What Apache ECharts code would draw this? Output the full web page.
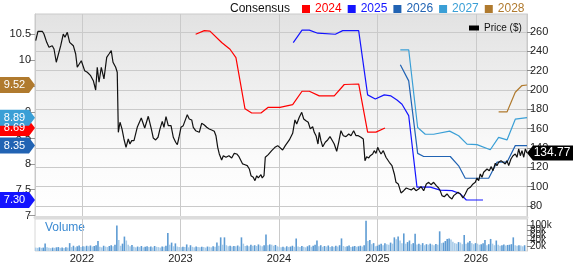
<!DOCTYPE html>
<html><head><meta charset="utf-8">
<script src="https://cdn.jsdelivr.net/npm/echarts@6/dist/echarts.min.js"></script>
<style>html,body{margin:0;padding:0;background:#fff;}#c{width:573px;height:264px;}</style>
</head><body><div id="c"></div>
<script>
// ---- axis extents / ticks ----
const xMin = 2021.523, xMax = 2026.518;
const yearTicks = [2022, 2023, 2024, 2025, 2026];
const priceTicks = [80, 100, 120, 140, 160, 180, 200, 220, 240, 260];
const epsTicks = [7, 7.5, 8, 8.5, 9, 9.5, 10, 10.5];
const volumeTicks = [0, 20, 40, 60, 80, 100, 120];

// ---- price (decimal year, $) ----
const priceDates = [2021.530,2021.553,2021.597,2021.614,2021.642,2021.665,2021.698,2021.716,2021.739,2021.756,2021.784,2021.810,2021.827,2021.851,2021.875,2021.895,2021.912,2021.936,2021.952,2021.970,2021.993,2022.010,2022.027,2022.054,2022.088,2022.115,2022.139,2022.155,2022.173,2022.196,2022.223,2022.251,2022.274,2022.297,2022.315,2022.342,2022.358,2022.369,2022.386,2022.406,2022.426,2022.447,2022.470,2022.487,2022.505,2022.528,2022.561,2022.602,2022.637,2022.673,2022.704,2022.724,2022.748,2022.772,2022.792,2022.815,2022.832,2022.853,2022.876,2022.904,2022.927,2022.951,2022.968,2022.985,2023.005,2023.028,2023.046,2023.069,2023.089,2023.114,2023.130,2023.154,2023.171,2023.191,2023.215,2023.242,2023.266,2023.292,2023.317,2023.343,2023.360,2023.378,2023.394,2023.418,2023.435,2023.462,2023.492,2023.520,2023.546,2023.571,2023.594,2023.614,2023.631,2023.655,2023.678,2023.699,2023.716,2023.739,2023.756,2023.774,2023.790,2023.817,2023.830,2023.848,2023.861,2023.891,2023.926,2023.959,2023.987,2024.003,2024.037,2024.064,2024.105,2024.139,2024.162,2024.180,2024.206,2024.231,2024.251,2024.274,2024.297,2024.318,2024.342,2024.358,2024.376,2024.396,2024.409,2024.426,2024.444,2024.470,2024.494,2024.518,2024.538,2024.561,2024.586,2024.606,2024.629,2024.653,2024.680,2024.708,2024.731,2024.758,2024.782,2024.805,2024.832,2024.856,2024.873,2024.890,2024.911,2024.927,2024.951,2024.967,2024.985,2025.002,2025.018,2025.036,2025.059,2025.086,2025.120,2025.147,2025.171,2025.188,2025.211,2025.239,2025.266,2025.292,2025.317,2025.343,2025.368,2025.391,2025.418,2025.442,2025.469,2025.496,2025.520,2025.543,2025.570,2025.597,2025.621,2025.637,2025.655,2025.678,2025.706,2025.733,2025.756,2025.774,2025.790,2025.817,2025.841,2025.868,2025.891,2025.916,2025.942,2025.970,2025.993,2026.010,2026.027,2026.044,2026.061,2026.078,2026.094,2026.112,2026.135,2026.155,2026.173,2026.196,2026.213,2026.230,2026.254,2026.274,2026.297,2026.315,2026.332,2026.355,2026.376,2026.399,2026.416,2026.434,2026.450,2026.467,2026.485,2026.501,2026.518];
const priceValues = [251.0,260.7,260.7,257.9,249.3,244.2,245.8,242.4,228.7,228.7,245.8,257.9,254.5,259.7,249.3,247.6,245.8,237.2,223.5,221.7,230.3,230.3,220.0,218.3,214.8,209.6,200.0,223.5,208.0,223.5,211.4,233.8,237.2,240.7,228.7,223.5,218.3,156.2,166.6,159.7,149.3,140.7,149.3,144.1,147.6,147.6,161.4,171.0,160.7,172.8,159.7,150.3,148.3,151.1,159.7,167.6,161.4,172.4,163.1,163.1,151.1,145.9,143.4,151.1,161.4,163.1,162.0,174.5,170.0,169.0,161.4,157.9,158.9,156.2,165.5,163.8,161.4,159.7,158.6,157.3,152.7,140.7,133.8,127.6,132.0,130.4,132.0,129.7,134.5,133.8,131.0,130.4,123.5,122.7,121.7,118.3,111.3,109.7,106.2,111.3,109.0,112.4,109.0,111.3,130.4,133.1,137.2,140.7,142.4,140.7,137.9,142.4,148.3,155.2,169.0,164.8,171.8,176.9,170.0,168.2,166.6,159.7,162.0,156.2,152.7,144.1,156.2,147.6,141.3,145.9,148.3,151.7,148.3,144.1,136.6,145.9,157.9,152.7,151.7,154.5,152.7,157.9,152.7,152.7,151.1,149.3,126.9,131.0,129.7,132.0,133.8,137.2,134.5,140.7,137.2,133.8,137.2,130.4,125.2,121.7,113.1,104.5,102.8,93.5,95.8,98.6,97.6,96.6,98.6,95.8,97.6,100.0,95.8,102.8,104.5,102.0,104.5,101.0,98.6,95.8,90.7,89.6,92.4,89.0,87.2,90.7,92.4,94.2,92.4,88.3,92.4,97.6,99.3,102.8,104.5,109.0,106.2,113.1,109.7,114.9,113.8,118.3,116.5,120.7,116.5,124.2,121.7,125.2,126.9,128.6,123.5,126.9,121.7,128.6,132.0,133.8,130.4,139.0,132.0,137.2,130.4,139.0,134.77];

// ---- consensus EPS estimates ----
const eps2024Dates = [2023.154,2023.242,2023.299,2023.418,2023.503,2023.563,2023.655,2023.723,2023.817,2023.891,2024.010,2024.139,2024.234,2024.308,2024.409,2024.561,2024.663,2024.809,2024.900,2024.985,2025.076];
const eps2024Values = [10.50,10.57,10.56,10.34,10.21,10.05,9.06,8.98,8.98,9.09,9.09,9.14,9.40,9.40,9.31,9.31,9.53,9.54,8.61,8.61,8.69];
const eps2025Dates = [2024.145,2024.234,2024.308,2024.393,2024.572,2024.647,2024.809,2024.900,2024.978,2025.069,2025.137,2025.198,2025.249,2025.317,2025.401,2025.536,2025.637,2025.756,2025.841,2025.902,2026.071];
const eps2025Values = [10.34,10.58,10.58,10.52,10.50,10.57,10.57,9.33,9.25,9.33,9.31,9.23,9.15,8.93,7.55,7.55,7.49,7.48,7.42,7.30,7.30];
const eps2026Dates = [2025.232,2025.317,2025.408,2025.469,2025.739,2025.824,2025.891,2026.010,2026.129,2026.213,2026.315,2026.399,2026.518];
const eps2026Values = [9.91,9.60,8.20,8.14,8.14,7.96,7.72,7.72,7.72,8.03,8.03,8.35,8.35];
const eps2027Dates = [2025.232,2025.317,2025.408,2025.485,2025.570,2025.733,2025.824,2025.909,2026.010,2026.145,2026.230,2026.315,2026.399,2026.518];
const eps2027Values = [10.20,10.20,8.70,8.57,8.57,8.63,8.54,8.38,8.37,8.27,8.51,8.46,8.86,8.89];
const eps2028Dates = [2026.230,2026.315,2026.399,2026.467,2026.518];
const eps2028Values = [9.00,9.00,9.38,9.51,9.52];

// ---- weekly volume (thousands) ----
const volumeStart = 2021.530;
const volumeValues = [13,12,14,12,13,29,14,12,11,13,12,14,15,12,13,11,14,13,30,15,20,14,18,21,15,
18,17,20,18,21,17,19,22,38,16,14,20,17,15,19,22,18,24,97,42,20,28,55,40,24,18,23,16,14,17,15,19,14,16,18,15,17,14,19,16,15,13,17,16,20,69,24,32,18,29,17,15,
14,16,15,25,14,22,16,14,17,15,14,16,15,13,17,16,14,18,16,32,20,52,24,52,22,18,20,17,19,18,21,17,52,28,19,21,18,24,20,22,19,25,21,18,22,63,22,25,24,20,23,18,16,
14,16,13,18,15,17,20,16,48,17,15,19,16,14,18,22,16,20,24,40,18,22,16,19,17,21,15,18,16,20,17,22,48,19,16,18,21,15,17,19,16,18,20,17,22,115,38,42,26,30,18,20,
24,28,22,30,26,24,32,28,52,45,55,40,30,67,28,34,40,26,30,66,25,28,24,30,22,26,24,28,25,22,27,24,75,30,32,38,46,48,44,35,30,28,34,32,26,61,28,32,38,30,26,30,
28,24,26,30,42,22,26,46,28,22,40,24,20,22,25,21,23,24,26,52,22,20,22,21,18,22];

const consensus = [
  {name: '2024', dates: eps2024Dates, values: eps2024Values, color: '#ff0000'},
  {name: '2025', dates: eps2025Dates, values: eps2025Values, color: '#1414ff'},
  {name: '2026', dates: eps2026Dates, values: eps2026Values, color: '#2163b3'},
  {name: '2027', dates: eps2027Dates, values: eps2027Values, color: '#3a9fd6'},
  {name: '2028', dates: eps2028Dates, values: eps2028Values, color: '#b07a2e'}
];

const zip = (a, b) => a.map((d, i) => [d, b[i]]);
const FONT = 'Liberation Sans, Arial, sans-serif';
const gridLineColor = '#cacaca';

const series = [];
consensus.forEach(c => {
  const last = c.values[c.values.length - 1];
  series.push({
    name: c.name, type: 'line', xAxisIndex: 0, yAxisIndex: 0,
    data: zip(c.dates, c.values), symbol: 'none', z: 3,
    lineStyle: {color: c.color, width: 1.2}, itemStyle: {color: c.color},
    markPoint: {
      symbol: 'path://M0,0L29,0L35,8L29,16L0,16Z', symbolSize: [35, 16],
      symbolKeepAspect: false, symbolOffset: [-17.5, 0], silent: true,
      itemStyle: {color: c.color},
      label: {show: true, position: 'inside', color: '#fff', fontSize: 11, fontFamily: FONT,
              offset: [-3, 0], formatter: p => p.value.toFixed(2)},
      data: [{coord: [xMin, last], value: last}]
    }
  });
});
const lastPrice = priceValues[priceValues.length - 1];
series.push({
  name: 'Price ($)', type: 'line', xAxisIndex: 0, yAxisIndex: 1,
  data: zip(priceDates, priceValues), symbol: 'none', z: 4,
  lineStyle: {color: '#111', width: 1.2}, itemStyle: {color: '#000'},
  markPoint: {
    symbol: 'path://M0,8L6,0L46,0L46,16L6,16Z', symbolSize: [46, 15],
    symbolKeepAspect: false, symbolOffset: [23, 0], silent: true,
    itemStyle: {color: '#000'},
    label: {show: true, position: 'inside', color: '#fff', fontSize: 12, fontFamily: FONT,
            offset: [2, 0], formatter: p => p.value.toFixed(2)},
    data: [{coord: [xMax, lastPrice], value: lastPrice}]
  }
});
series.push({
  name: 'Volume', type: 'bar', xAxisIndex: 1, yAxisIndex: 2, barWidth: 1.6,
  data: volumeValues.map((v, i) => ({
    value: [volumeStart + i * 7 / 365.25, v],
    itemStyle: {color: (i > 0 && v > volumeValues[i - 1]) ? '#5d9bd3' : '#a9cce9'}
  }))
});

const chart = echarts.init(document.getElementById('c'), null, {renderer: 'canvas'});
chart.setOption({
  animation: false,
  textStyle: {fontFamily: FONT},
  title: {text: 'Consensus', left: 225, top: -2, textStyle: {fontSize: 12, fontWeight: 'normal', color: '#111', fontFamily: FONT}},
  legend: [{
    data: consensus.map(c => ({name: c.name, textStyle: {color: c.color}})),
    left: 297, top: -2, icon: 'rect', itemWidth: 8, itemHeight: 8, itemGap: 6,
    textStyle: {fontSize: 12, fontFamily: FONT}, selectedMode: false
  }, {
    data: ['Price ($)'], left: 464, top: 18, icon: 'rect', itemWidth: 10, itemHeight: 5,
    textStyle: {fontSize: 10, color: '#111', fontFamily: FONT}, selectedMode: false
  }],
  graphic: [{type: 'text', left: 45, top: 222, style: {text: 'Volume', fill: '#3b8ad2', font: '12px ' + FONT}}],
  grid: [
    {left: 35, right: 46, top: 14, height: 203, show: true, borderColor: gridLineColor, borderWidth: 1,
     backgroundColor: new echarts.graphic.LinearGradient(0, 0, 0, 1, [
       {offset: 0, color: '#e2e2e2'}, {offset: 0.7, color: '#fbfbfb'}, {offset: 1, color: '#ffffff'}])},
    {left: 35, right: 46, top: 219, height: 35, show: true, borderColor: '#d8d8d8', borderWidth: 1, backgroundColor: '#fff'}
  ],
  xAxis: [
    {type: 'value', gridIndex: 0, min: xMin, max: xMax,
     axisLabel: {show: false}, axisTick: {show: false, customValues: yearTicks},
     splitLine: {show: true, lineStyle: {color: gridLineColor, width: 1}},
     axisLine: {show: true, onZero: false, lineStyle: {color: '#dcdcdc', width: 3}}},
    {type: 'value', gridIndex: 1, min: xMin, max: xMax,
     axisLabel: {show: true, customValues: yearTicks, formatter: v => String(v), fontSize: 11, color: '#222', margin: 2},
     axisTick: {show: false, customValues: yearTicks},
     splitLine: {show: true, lineStyle: {color: gridLineColor, width: 1}},
     axisLine: {show: false}}
  ],
  yAxis: [
    {type: 'value', gridIndex: 0, position: 'left', min: 6.972, max: 10.891,
     axisLabel: {customValues: epsTicks, fontSize: 11, color: '#222', margin: 4},
     axisTick: {show: true, customValues: epsTicks, length: 6, lineStyle: {color: '#999'}},
     splitLine: {show: false}, axisLine: {show: true, lineStyle: {color: gridLineColor}}},
    {type: 'value', gridIndex: 0, position: 'right', min: 68.6, max: 278.6,
     axisLabel: {customValues: priceTicks, fontSize: 11, color: '#222', margin: 3},
     axisTick: {show: true, customValues: priceTicks, length: 6, lineStyle: {color: '#888'}},
     splitLine: {show: true, lineStyle: {color: gridLineColor, width: 1}},
     axisLine: {show: true, lineStyle: {color: gridLineColor}}},
    {type: 'value', gridIndex: 1, position: 'right', min: 0, max: 122,
     axisLabel: {customValues: volumeTicks, fontSize: 10, color: '#222', margin: 3, hideOverlap: false,
                 formatter: v => v === 0 ? '0' : v + 'k'},
     axisTick: {show: true, customValues: volumeTicks, length: 4, lineStyle: {color: '#888'}},
     splitLine: {show: false}, axisLine: {show: true, lineStyle: {color: gridLineColor}}}
  ],
  series: series
});
</script></body></html>
